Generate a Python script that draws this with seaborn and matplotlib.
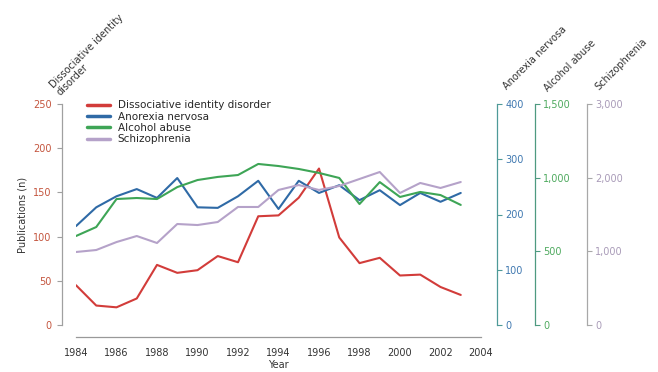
import matplotlib
matplotlib.use("Agg")
import matplotlib.pyplot as plt
import seaborn as sns
import pandas as pd

years = list(range(1984, 2004))
did = [45, 22, 20, 30, 68, 59, 62, 78, 71, 123, 124, 144, 177, 99, 70, 76, 56, 57, 43, 34]
anorexia = [179, 213, 233, 246, 230, 266, 213, 212, 233, 261, 210, 261, 239, 253, 226, 244, 217, 239, 223, 239]
alcohol = [604, 665, 855, 862, 855, 936, 984, 1005, 1018, 1093, 1079, 1059, 1032, 998, 821, 970, 869, 903, 882, 815]
schizo = [991, 1018, 1126, 1208, 1113, 1371, 1357, 1398, 1602, 1602, 1833, 1900, 1833, 1887, 1982, 2077, 1792, 1928, 1860, 1941]

names = ["Dissociative identity disorder", "Anorexia nervosa", "Alcohol abuse", "Schizophrenia"]
axis_titles = ["Dissociative identity\ndisorder", "Anorexia nervosa", "Alcohol abuse", "Schizophrenia"]
limits = [250, 400, 1500, 3000]
ticks = [[0, 50, 100, 150, 200, 250], [0, 100, 200, 300, 400], [0, 500, 1000, 1500], [0, 1000, 2000, 3000]]
line_colors = ["#d23c3a", "#2f6aa6", "#3ea556", "#b5a2c9"]
label_colors = ["#c4553e", "#3f78b0", "#4faa5f", "#a99bb8"]
spine_colors = ["#a0a0a0", "#4e9a98", "#4e9a80", "#a8a8a8"]
x_ticks = list(range(1984, 2005, 2))

sns.set_style("white")
plt.rcParams["font.family"] = ["DejaVu Sans"]
plt.rcParams["font.size"] = 7

W, H = 658, 372
PT = 0.72  # points per pixel at 100 dpi
fig = plt.figure(figsize=(W / 100, H / 100), dpi=100)
ax = fig.add_axes([76 / W, (H - 325) / H, (481 - 76) / W, (325 - 104) / H])

series = [did, anorexia, alcohol, schizo]
axes = [ax]
offsets_px = [16, 54, 106]
for off in offsets_px:
    t = ax.twinx()
    for s in ["top", "left", "bottom"]:
        t.spines[s].set_visible(False)
    t.spines["right"].set_position(("outward", off * PT))
    axes.append(t)

for i, (a, vals) in enumerate(zip(axes, series)):
    df = pd.DataFrame({"Year": years, "n": vals})
    sns.lineplot(data=df, x="Year", y="n", ax=a, color=line_colors[i], linewidth=1.5, label=names[i], legend=False)
    a.set_ylim(0, limits[i])
    a.set_yticks(ticks[i])
    a.set_yticklabels([f"{v:,}" for v in ticks[i]])
    a.tick_params(axis="y", direction="out", length=3.5, width=0.8, colors=spine_colors[i],
                  labelcolor=label_colors[i], labelsize=7, pad=2.5)
    a.set_ylabel("")
    a.set_xlabel("")
ax.tick_params(axis="y", pad=4)

ax.set_xlim(1984, 2004)
ax.set_xticks(x_ticks)
ax.tick_params(axis="x", direction="out", length=3, width=0.8, colors="#888888",
               labelcolor="#333333", labelsize=7, pad=5)
ax.spines["top"].set_visible(False)
ax.spines["right"].set_visible(False)
ax.spines["left"].set_position(("outward", 14 * PT))
ax.spines["bottom"].set_position(("outward", 12 * PT))
ax.spines["left"].set_color(spine_colors[0])
ax.spines["bottom"].set_color("#999999")
for i, a in enumerate(axes[1:], start=1):
    a.spines["right"].set_color(spine_colors[i])
for s in ["left", "bottom"]:
    ax.spines[s].set_linewidth(0.9)
for a in axes[1:]:
    a.spines["right"].set_linewidth(0.9)

ax.set_ylabel("Publications (n)", fontsize=7, color="#333333", labelpad=4)
ax.set_xlabel("Year", fontsize=7, color="#333333", labelpad=1)

# Legend collecting all four series
handles, labels = [], []
for a in axes:
    h, l = a.get_legend_handles_labels()
    handles += h
    labels += l
leg = ax.legend(handles, labels, loc="upper left", bbox_to_anchor=(0.018, 1.035), frameon=False,
                fontsize=7.5, handlelength=2.2, handletextpad=0.7, labelspacing=0.12, borderaxespad=0)
for line in leg.get_lines():
    line.set_linewidth(2.5)

# Rotated axis titles
title_pos = [(62, 97), (508, 91), (549, 93), (600, 92)]
for (px, py), txt in zip(title_pos, axis_titles):
    fig.text(px / W, (H - py) / H, txt, rotation=45, rotation_mode="anchor",
             ha="left", va="bottom", fontsize=7, color="#333333", linespacing=1.0)

fig.savefig("out.png", dpi=100)
